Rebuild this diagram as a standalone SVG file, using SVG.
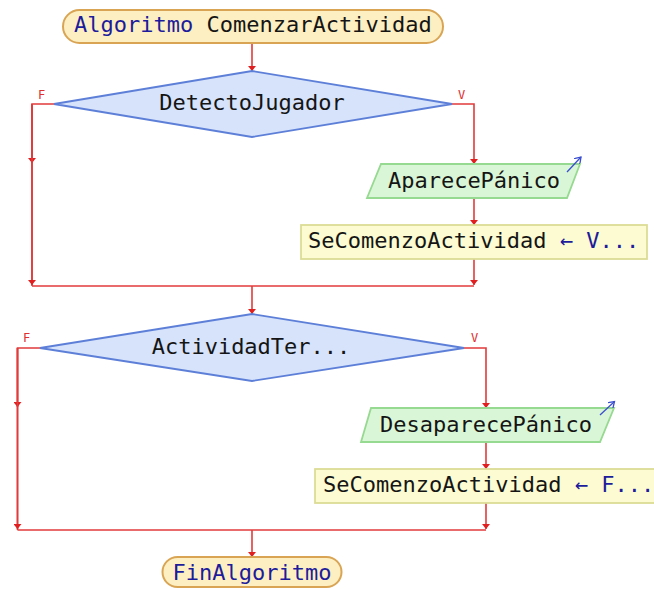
<svg xmlns="http://www.w3.org/2000/svg" width="654" height="589" viewBox="0 0 654 589">
<defs>
<marker id="ah" markerWidth="8" markerHeight="6" refX="4" refY="5" orient="0" markerUnits="userSpaceOnUse">
<path d="M0,0 L8,0 L4,5 Z" fill="#e02020"/>
</marker>
<marker id="oh" markerWidth="8" markerHeight="8" refX="6" refY="4" orient="auto" markerUnits="userSpaceOnUse">
<path d="M0,0 L6,4 L0,8" fill="none" stroke="#3a4fd0" stroke-width="1.3"/>
</marker>
</defs>
<style>
text{font-family:"DejaVu Sans Mono","Liberation Mono",monospace;font-size:22px;fill:#151515}
.kw{fill:#1c1c9c}
.lbl{font-family:"DejaVu Sans Mono","Liberation Mono",monospace;font-size:12px;fill:#e03030}
.term{fill:#fdefc2;stroke:#d9a554;stroke-width:2}
.dec{fill:#d6e3fb;stroke:#5d7fd8;stroke-width:1.8}
.io{fill:#d9f6d6;stroke:#96d990;stroke-width:1.8}
.proc{fill:#fcfbd1;stroke:#dcdc96;stroke-width:1.8}
.c{fill:none;stroke:#e23a3a;stroke-width:1.6}
</style>
<rect width="654" height="589" fill="#ffffff"/>
<g id="connectors">
<path class="c" d="M252,43 V71" marker-end="url(#ah)"/>
<path class="c" d="M54,104 H32 V286"/>
<path class="c" d="M32,104 V163" marker-end="url(#ah)"/>
<path class="c" d="M32,104 V285" marker-end="url(#ah)"/>
<path class="c" d="M452,104 H474 V164" marker-end="url(#ah)"/>
<path class="c" d="M474,198 V225" marker-end="url(#ah)"/>
<path class="c" d="M474,259 V285" marker-end="url(#ah)"/>
<path class="c" d="M32,286 H474"/>
<path class="c" d="M252,286 V314" marker-end="url(#ah)"/>
<path class="c" d="M40,348 H17.5 V530"/>
<path class="c" d="M17.5,348 V407" marker-end="url(#ah)"/>
<path class="c" d="M17.5,348 V529" marker-end="url(#ah)"/>
<path class="c" d="M464,348 H486 V408" marker-end="url(#ah)"/>
<path class="c" d="M486,442 V469" marker-end="url(#ah)"/>
<path class="c" d="M486,503 V529" marker-end="url(#ah)"/>
<path class="c" d="M17.5,530 H486"/>
<path class="c" d="M252,530 V557" marker-end="url(#ah)"/>
<text class="lbl" x="38" y="99">F</text>
<text class="lbl" x="458" y="99">V</text>
<text class="lbl" x="23" y="342">F</text>
<text class="lbl" x="471" y="342">V</text>
</g>
<g id="start">
<rect class="term" x="63" y="10" width="380" height="33" rx="16.5"/>
<text x="74" y="32"><tspan class="kw">Algoritmo</tspan> ComenzarActividad</text>
</g>
<g id="dec1">
<polygon class="dec" points="252,71 452,104 252,137 54,104"/>
<text x="252" y="110" text-anchor="middle">DetectoJugador</text>
</g>
<g id="out1">
<polygon class="io" points="381,164 580,164 567,198 367,198"/>
<path d="M567,172 L581,157" fill="none" stroke="#3a4fd0" stroke-width="1.3" marker-end="url(#oh)"/>
<text x="474" y="188" text-anchor="middle">AparecePánico</text>
</g>
<g id="assign1">
<rect class="proc" x="301" y="225" width="346" height="34"/>
<text x="308" y="248">SeComenzoActividad <tspan class="kw">← V...</tspan></text>
</g>
<g id="dec2">
<polygon class="dec" points="252,314 464,348 252,381 40,348"/>
<text x="251" y="354" text-anchor="middle">ActividadTer...</text>
</g>
<g id="out2">
<polygon class="io" points="371,408 614,408 600,442 361,442"/>
<path d="M600,415 L614.5,401.5" fill="none" stroke="#3a4fd0" stroke-width="1.3" marker-end="url(#oh)"/>
<text x="486" y="432" text-anchor="middle">DesaparecePánico</text>
</g>
<g id="assign2">
<rect class="proc" x="315" y="469" width="346" height="34"/>
<text x="323" y="492">SeComenzoActividad <tspan class="kw">← F...</tspan></text>
</g>
<g id="end">
<rect class="term" x="162.5" y="557" width="179" height="30" rx="15"/>
<text class="kw" x="252" y="580" text-anchor="middle">FinAlgoritmo</text>
</g>
</svg>
